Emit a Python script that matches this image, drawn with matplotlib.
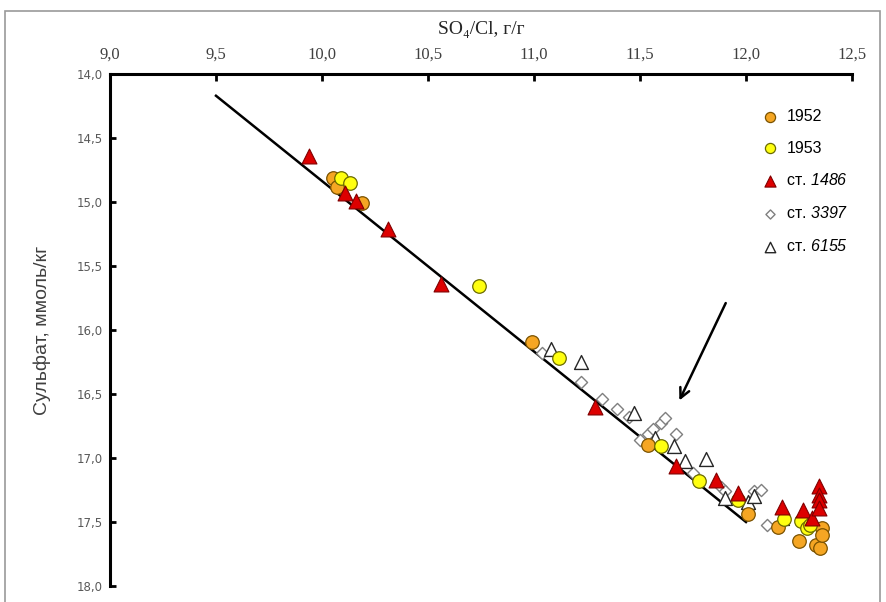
import matplotlib.pyplot as plt
from matplotlib.patches import Rectangle

# only the station numbers go through mathtext, so roman there = italic sans
plt.rcParams['mathtext.fontset'] = 'custom'
plt.rcParams['mathtext.rm'] = 'Liberation Sans:italic'
plt.rcParams['mathtext.it'] = 'Liberation Sans:italic'

# 1952 (orange circles)
x_1952 = [10.05, 10.07, 10.19, 10.99, 11.54, 12.01, 12.15, 12.25, 12.33, 12.35, 12.36, 12.36]
y_1952 = [14.81, 14.88, 15.01, 16.09, 16.90, 17.44, 17.54, 17.65, 17.68, 17.70, 17.55, 17.60]

# 1953 (yellow circles)
x_1953 = [10.09, 10.13, 10.74, 11.12, 11.60, 11.78, 11.96, 12.18, 12.26, 12.29, 12.30]
y_1953 = [14.81, 14.85, 15.66, 16.22, 16.91, 17.18, 17.33, 17.48, 17.49, 17.55, 17.52]

# ст. 1486 (red triangles)
x_1486 = [9.94, 10.11, 10.16, 10.31, 10.56, 11.29, 11.67, 11.86, 11.96, 12.17,
          12.27, 12.31, 12.345, 12.345, 12.345, 12.345]
y_1486 = [14.64, 14.93, 14.99, 15.21, 15.64, 16.60, 17.06, 17.17, 17.27, 17.38,
          17.41, 17.47, 17.22, 17.29, 17.33, 17.39]

# ст. 3397 (open diamonds)
x_3397 = [11.04, 11.22, 11.32, 11.39, 11.45, 11.50, 11.54, 11.56, 11.60, 11.62,
          11.67, 11.75, 11.88, 11.90, 12.04, 12.07, 12.10]
y_3397 = [16.18, 16.41, 16.54, 16.62, 16.68, 16.86, 16.81, 16.77, 16.73, 16.69,
          16.81, 17.12, 17.23, 17.26, 17.26, 17.25, 17.52]

# ст. 6155 (open triangles)
x_6155 = [11.08, 11.22, 11.47, 11.57, 11.66, 11.71, 11.81, 11.90, 12.01, 12.04, 12.17]
y_6155 = [16.15, 16.25, 16.65, 16.84, 16.91, 17.02, 17.01, 17.31, 17.34, 17.30, 17.47]

# trend line and arrow
line_x = [9.5, 12.0]
line_y = [14.17, 17.50]
arrow_from = (11.91, 15.77)
arrow_to = (11.68, 16.57)

fig = plt.figure(figsize=(8.86, 6.02), dpi=100)
fig.patches.append(Rectangle((5 / 886, -0.05), 875 / 886, 1.05 - 11 / 602,
                             transform=fig.transFigure, fill=False,
                             edgecolor='#9a9a9a', linewidth=1.2))
ax = fig.add_axes([110 / 886, 16 / 602, 742 / 886, 512 / 602])

ax.plot(line_x, line_y, color='black', linewidth=1.8, zorder=2)

ax.scatter(x_3397, y_3397, marker='D', s=38, facecolor='white', edgecolor='#7f7f7f',
           linewidth=1.0, label='ст. $3397$', zorder=3)
ax.scatter(x_6155, y_6155, marker='^', s=100, facecolor='white', edgecolor='#262626',
           linewidth=1.0, label='ст. $6155$', zorder=3)
ax.scatter(x_1952, y_1952, marker='o', s=95, facecolor='#f5a623', edgecolor='#7a5200',
           linewidth=0.9, label='1952', zorder=4)
ax.scatter(x_1953, y_1953, marker='o', s=95, facecolor='#ffff10', edgecolor='#6b6b00',
           linewidth=0.9, label='1953', zorder=4)
ax.scatter(x_1486, y_1486, marker='^', s=115, facecolor='#dd0000', edgecolor='#800000',
           linewidth=0.8, label='ст. $1486$', zorder=5)

ax.annotate('', xy=arrow_to, xytext=arrow_from,
            arrowprops=dict(arrowstyle='->,head_length=0.7,head_width=0.35',
                            color='black', linewidth=1.8))

ax.set_xlim(9.0, 12.5)
ax.set_ylim(18.0, 14.0)
ax.xaxis.tick_top()
ax.xaxis.set_label_position('top')
xt = [9.0, 9.5, 10.0, 10.5, 11.0, 11.5, 12.0, 12.5]
yt = [14.0, 14.5, 15.0, 15.5, 16.0, 16.5, 17.0, 17.5, 18.0]
ax.set_xticks(xt)
ax.set_xticklabels([f'{v:.1f}'.replace('.', ',') for v in xt],
                   family='Liberation Serif', fontsize=12, color='#404040')
ax.set_yticks(yt)
ax.set_yticklabels([f'{v:.1f}'.replace('.', ',') for v in yt],
                   family='DejaVu Sans', fontsize=8.5, color='#595959')
ax.tick_params(axis='x', direction='in', length=5, width=2, pad=8)
ax.tick_params(axis='y', direction='in', length=4, width=2, pad=5)

for s in ['right', 'bottom']:
    ax.spines[s].set_visible(False)
for s in ['top', 'left']:
    ax.spines[s].set_linewidth(2.2)

ax.set_xlabel('SO₄/Cl, г/г', family=['Liberation Serif', 'DejaVu Serif'],
              fontsize=14, color='#262626', labelpad=9)
ax.set_ylabel('Сульфат, ммоль/кг', family='Liberation Sans', fontsize=14,
              color='#404040')
ax.yaxis.set_label_coords(-0.08, 0.5)

handles, labels = ax.get_legend_handles_labels()
order = [2, 3, 4, 0, 1]
ax.legend([handles[i] for i in order], [labels[i] for i in order],
          loc='upper right', bbox_to_anchor=(1.015, 0.96), frameon=False,
          prop={'family': 'Liberation Sans', 'size': 11.5},
          handletextpad=0.05, labelspacing=1.05, markerscale=0.75, scatterpoints=1)

fig.savefig('out.png', dpi=100)
